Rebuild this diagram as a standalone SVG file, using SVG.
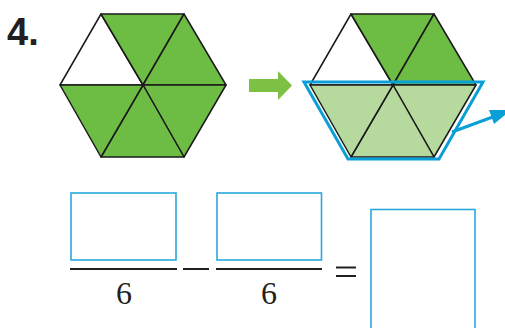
<svg xmlns="http://www.w3.org/2000/svg" width="505" height="328" viewBox="0 0 505 328">
<style>
.t{stroke:#1a1a1a;stroke-width:1.5;stroke-linejoin:round}
.w{fill:#ffffff}
.d{fill:#6dbd45}
.l{fill:#b6d99d}
.box{fill:none;stroke:#2aa8de;stroke-width:1.6}
.bar{stroke:#231f20;stroke-width:2}
.num{font-family:"Liberation Serif",serif;font-size:32px;fill:#231f20;text-anchor:middle}
</style>
<rect width="505" height="328" fill="#ffffff"/>
<text id="label" x="7" y="45" font-family="Liberation Sans, Arial, sans-serif" font-weight="bold" font-size="38" fill="#231f20">4.</text>
<g id="hex1">
<polygon class="t w" points="143,85 60,85 101,14"/>
<polygon class="t d" points="143,85 101,14 184,14"/>
<polygon class="t d" points="143,85 184,14 226,85"/>
<polygon class="t d" points="143,85 226,85 184,157"/>
<polygon class="t d" points="143,85 184,157 101,157"/>
<polygon class="t d" points="143,85 101,157 60,85"/>
</g>
<g id="greenArrow">
<polygon fill="#7cc143" points="249,79 278,79 278,71 292,85.5 278,100 278,92 249,92"/>
</g>
<g id="hex2">
<polygon class="t w" points="393,85 310,85 351,14"/>
<polygon class="t d" points="393,85 351,14 434,14"/>
<polygon class="t d" points="393,85 434,14 476,85"/>
<polygon class="t l" points="393,85 476,85 434,157"/>
<polygon class="t l" points="393,85 434,157 351,157"/>
<polygon class="t l" points="393,85 351,157 310,85"/>
</g>
<g id="connectors">
<polygon points="304,82 483,82 439,159 348,159" fill="none" stroke="#0b9fd8" stroke-width="3" stroke-linejoin="miter"/>
<line x1="452" y1="132" x2="494" y2="116.5" stroke="#0b9fd8" stroke-width="3"/>
<polygon points="511,110 489,110 494,124" fill="#0b9fd8"/>
</g>
<g id="equation">
<rect class="box" x="71" y="193" width="105" height="67"/>
<line class="bar" x1="70" y1="269" x2="177" y2="269"/>
<text class="num" x="124" y="304">6</text>
<line class="bar" x1="183" y1="269" x2="209" y2="269"/>
<rect class="box" x="217" y="193" width="104.5" height="67"/>
<line class="bar" x1="216" y1="269" x2="322" y2="269"/>
<text class="num" x="269" y="304">6</text>
<line class="bar" x1="336" y1="267.5" x2="356" y2="267.5"/>
<line class="bar" x1="336" y1="276" x2="356" y2="276"/>
<rect class="box" x="371" y="209.5" width="104" height="130"/>
</g>
</svg>
